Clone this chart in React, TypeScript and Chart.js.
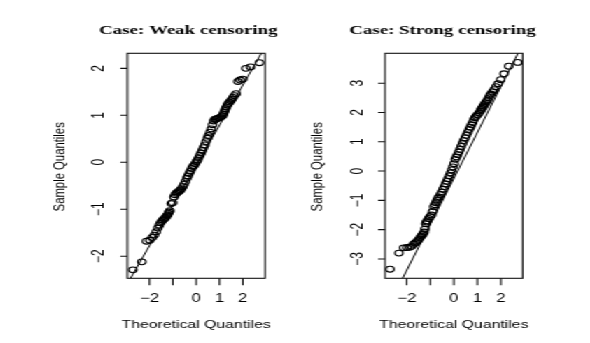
import React, { useEffect, useRef } from "react";
import { Chart, registerables } from "chart.js";

Chart.register(...registerables);

// horizontal stretch of the original figure
const STRETCH = 1.4;

// theoretical normal quantiles (shared by both panels)
const theoretical = [
  -2.71, -2.33, -2.13, -1.99, -1.88, -1.79, -1.71, -1.64, -1.58, -1.53, -1.48, -1.43, -1.38, -1.34,
  -1.30, -1.26, -1.23, -1.19, -1.16, -1.13, -1.07, -1.01, -0.95, -0.90, -0.85, -0.81, -0.76, -0.72,
  -0.67, -0.63, -0.57, -0.52, -0.46, -0.40, -0.35, -0.30, -0.25, -0.19, -0.14, -0.09, -0.04,
  0.01,
  0.06, 0.11, 0.16, 0.21, 0.26, 0.31, 0.37, 0.42, 0.48, 0.53, 0.59, 0.65, 0.70, 0.75, 0.80, 0.85,
  0.90, 0.95, 1.01, 1.07, 1.13, 1.16, 1.19, 1.23, 1.26, 1.30, 1.34, 1.38, 1.43, 1.48, 1.53, 1.58,
  1.64, 1.71, 1.79, 1.88, 1.99, 2.13, 2.33, 2.71,
];

// sample quantiles, weak censoring
const weakSample = [
  -2.29, -2.12, -1.68, -1.66, -1.60, -1.55, -1.48, -1.40, -1.34, -1.29, -1.26, -1.23, -1.21, -1.19,
  -1.17, -1.14, -1.12, -1.09, -1.06, -1.03, -0.88, -0.86, -0.74, -0.69, -0.66, -0.64, -0.63, -0.61,
  -0.59, -0.56, -0.52, -0.47, -0.41, -0.34, -0.29, -0.24, -0.19, -0.13, -0.09, -0.07, -0.03,
  0.01,
  0.05, 0.10, 0.15, 0.20, 0.25, 0.31, 0.37, 0.44, 0.51, 0.57, 0.64, 0.71, 0.80, 0.88, 0.91, 0.92,
  0.93, 0.94, 0.95, 0.97, 0.99, 1.02, 1.06, 1.10, 1.14, 1.18, 1.22, 1.25, 1.28, 1.31, 1.34, 1.38,
  1.42, 1.46, 1.72, 1.75, 1.77, 2.00, 2.03, 2.12,
];

// sample quantiles, strong censoring
const strongSample = [
  -3.35, -2.80, -2.62, -2.61, -2.60, -2.57, -2.50, -2.45, -2.42, -2.38, -2.33, -2.27, -2.22, -2.18,
  -2.14, -2.08, -1.98, -1.80, -1.74, -1.70, -1.62, -1.56, -1.50, -1.38, -1.22, -1.15, -1.08, -1.00,
  -0.93, -0.88, -0.80, -0.72, -0.62, -0.53, -0.44, -0.35, -0.26, -0.16, -0.06, 0.04, 0.14,
  0.25,
  0.40, 0.48, 0.56, 0.65, 0.74, 0.84, 0.94, 1.04, 1.13, 1.22, 1.32, 1.42, 1.50, 1.58, 1.66, 1.75,
  1.82, 1.87, 1.92, 1.98, 2.05, 2.10, 2.14, 2.18, 2.22, 2.27, 2.32, 2.37, 2.42, 2.50, 2.58, 2.63,
  2.70, 2.78, 2.88, 2.98, 3.12, 3.32, 3.58, 3.71,
];

// reference lines (end points)
const weakLineX = [-3.2, 3.2];
const weakLineY = [-2.8, 2.67];
const strongLineX = [-3.2, 3.2];
const strongLineY = [-5.27, 4.77];

// axes
const xTickValues = [-2, -1, 0, 1, 2];
const xTickLabels = ["\u22122", "", "0", "1", "2"];
const weakYTicks = [-2, -1, 0, 1, 2];
const weakYTickLabels = ["\u22122", "\u22121", "0", "1", "2"];
const strongYTicks = [-3, -2, -1, 0, 1, 2, 3];
const strongYTickLabels = ["\u22123", "\u22122", "\u22121", "0", "1", "2", "3"];

const weakTitle = "Case: Weak censoring";
const strongTitle = "Case: Strong censoring";
const xAxisTitle = "Theoretical Quantiles";
const yAxisTitle = "Sample Quantiles";

const rAxesPlugin = {
  id: "rAxes",
  afterDraw(chart: any, _args: any, opts: any) {
    const { ctx, chartArea: a } = chart;
    const xs = chart.scales.x;
    const ys = chart.scales.y;
    ctx.save();
    ctx.strokeStyle = "#111";
    ctx.lineWidth = 1.1;
    ctx.strokeRect(a.left, a.top, a.right - a.left, a.bottom - a.top);
    ctx.beginPath();
    opts.xTicks.forEach((v: number) => {
      const px = xs.getPixelForValue(v);
      ctx.moveTo(px, a.bottom);
      ctx.lineTo(px, a.bottom + 7);
    });
    opts.yTicks.forEach((v: number) => {
      const py = ys.getPixelForValue(v);
      ctx.moveTo(a.left, py);
      ctx.lineTo(a.left - 5, py);
    });
    ctx.stroke();

    ctx.fillStyle = "#000";
    ctx.font = '12px "Liberation Sans", Arial, sans-serif';
    ctx.textAlign = "center";
    ctx.textBaseline = "alphabetic";
    opts.xTicks.forEach((v: number, i: number) => {
      const lab = opts.xTickLabels[i];
      if (lab) ctx.fillText(lab, xs.getPixelForValue(v), 302);
    });
    opts.yTicks.forEach((v: number, i: number) => {
      const py = ys.getPixelForValue(v);
      ctx.save();
      ctx.translate(a.left - 16.5, py);
      ctx.rotate(-Math.PI / 2);
      ctx.fillText(opts.yTickLabels[i], 0, 0);
      ctx.restore();
    });

    ctx.font = '11.3px "Liberation Sans", Arial, sans-serif';
    ctx.fillText(opts.xTitle, (a.left + a.right) / 2, 328);
    ctx.save();
    ctx.translate(a.left - 45.4, (a.top + a.bottom) / 2 + 1);
    ctx.rotate(-Math.PI / 2);
    ctx.fillText(opts.yTitle, 0, 0);
    ctx.restore();

    ctx.font = 'bold 13.5px "Liberation Serif", "Times New Roman", serif';
    ctx.fillText(opts.title, (a.left + a.right) / 2 + opts.titleOffset, 34);
    ctx.restore();
  },
};

type PanelProps = {
  left: number;
  width: number;
  padLeft: number;
  padRight: number;
  sample: number[];
  lineX: number[];
  lineY: number[];
  xMin: number;
  xMax: number;
  yMin: number;
  yMax: number;
  yTicks: number[];
  yTickLabels: string[];
  title: string;
  titleOffset: number;
};

function Panel(p: PanelProps) {
  const ref = useRef<HTMLCanvasElement | null>(null);
  useEffect(() => {
    if (!ref.current) return;
    const pts = theoretical.map((x, i) => ({ x, y: p.sample[i] }));
    const line = p.lineX.map((x, i) => ({ x, y: p.lineY[i] }));
    const chart = new Chart(ref.current, {
      type: "scatter",
      data: {
        datasets: [
          {
            data: pts,
            pointStyle: "circle",
            pointRadius: 2.9,
            pointBorderWidth: 1.1,
            pointBorderColor: "#000",
            pointBackgroundColor: "rgba(0,0,0,0)",
            showLine: false,
          },
          {
            data: line,
            showLine: true,
            borderColor: "#000",
            borderWidth: 1,
            pointRadius: 0,
            fill: false,
          },
        ],
      },
      options: {
        responsive: false,
        animation: false,
        events: [],
        layout: {
          padding: { left: p.padLeft, right: p.padRight, top: 53.3, bottom: 343 - 278.3 },
        },
        scales: {
          x: { type: "linear", min: p.xMin, max: p.xMax, display: false },
          y: { type: "linear", min: p.yMin, max: p.yMax, display: false },
        },
        plugins: {
          legend: { display: false },
          tooltip: { enabled: false },
          title: { display: false },
          rAxes: {
            xTicks: xTickValues,
            xTickLabels: xTickLabels,
            yTicks: p.yTicks,
            yTickLabels: p.yTickLabels,
            xTitle: xAxisTitle,
            yTitle: yAxisTitle,
            title: p.title,
            titleOffset: p.titleOffset,
          },
        } as any,
      },
      plugins: [rAxesPlugin],
    });
    return () => chart.destroy();
  }, []);
  return (
    <canvas
      ref={ref}
      width={p.width}
      height={343}
      style={{ position: "absolute", left: p.left, top: 0, width: p.width, height: 343 }}
    />
  );
}

export default function App() {
  return (
    <div
      style={{
        position: "absolute",
        left: 0,
        top: 0,
        width: 422,
        height: 343,
        transform: `scaleX(${STRETCH})`,
        transformOrigin: "0 0",
        background: "#fff",
      }}
    >
      <Panel
        left={0}
        width={211}
        padLeft={127.3 / STRETCH}
        padRight={211 - 265 / STRETCH}
        sample={weakSample}
        lineX={weakLineX}
        lineY={weakLineY}
        xMin={-2.95}
        xMax={2.95}
        yMin={-2.47}
        yMax={2.32}
        yTicks={weakYTicks}
        yTickLabels={weakYTickLabels}
        title={weakTitle}
        titleOffset={-5.6}
      />
      <Panel
        left={211}
        width={211}
        padLeft={385 / STRETCH - 211}
        padRight={211 - (522.7 / STRETCH - 211)}
        sample={strongSample}
        lineX={strongLineX}
        lineY={strongLineY}
        xMin={-2.92}
        xMax={2.92}
        yMin={-3.66}
        yMax={4.02}
        yTicks={strongYTicks}
        yTickLabels={strongYTickLabels}
        title={strongTitle}
        titleOffset={-8.1}
      />
    </div>
  );
}
